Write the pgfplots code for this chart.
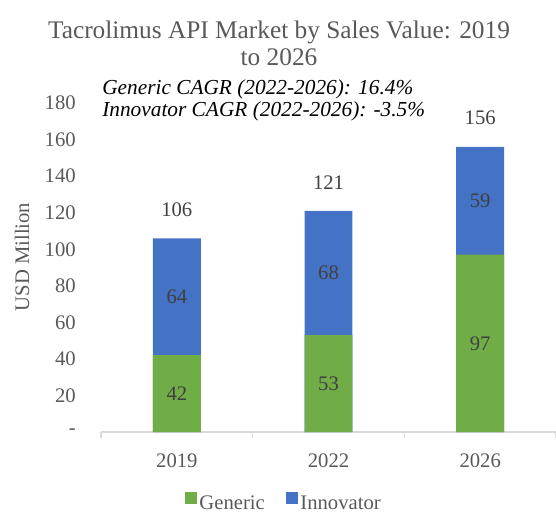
\documentclass[border=0pt]{standalone}
\usepackage{fontspec}
\setmainfont{Liberation Serif}
\usepackage{pgfplots}
\pgfplotsset{compat=1.18}
\definecolor{gcol}{HTML}{70AD47}
\definecolor{bcol}{HTML}{4472C4}
\definecolor{tgrey}{HTML}{595959}
\definecolor{lgrey}{HTML}{404040}
\definecolor{axgrey}{HTML}{D9D9D9}
\newcommand\fs{\fontsize{15.5pt}{18pt}\selectfont}
\begin{document}
\begin{tikzpicture}
\useasboundingbox (-75.75pt,-60pt) rectangle (341.25pt,324pt);
\begin{axis}[
  at={(0pt,0pt)}, anchor=south west,
  scale only axis, width=341.25pt, height=246.75pt,
  xmin=-0.5, xmax=2.5, ymin=0, ymax=180,
  enlargelimits=false, clip=false,
  axis x line*=bottom, axis y line*=left,
  x axis line style={draw=axgrey, line width=1.2pt},
  y axis line style={draw=none},
  xtick={0,1,2}, xticklabels={2019,2022,2026},
  minor xtick={-0.5,0.5,1.5,2.5},
  major tick length=0pt, minor tick length=4.5pt, tick align=outside,
  minor x tick style={draw=axgrey, line width=1pt},
  ytick={0,20,40,60,80,100,120,140,160,180},
  yticklabels={-,20,40,60,80,100,120,140,160,180},
  ytick style={draw=none},
  yticklabel style={font=\fs, text=tgrey, anchor=east, inner sep=0pt, xshift=-18.75pt},
  xticklabel style={font=\fs, text=tgrey, anchor=center, inner sep=0pt, yshift=-21.75pt},
  ylabel={USD Million},
  every axis y label/.style={at={(axis description cs:-0.1736,0.532)}, rotate=90, anchor=center, font=\fs, text=tgrey},
  bar width=0.316,
  every node near coord/.append style={font=\fs, text=lgrey, anchor=center},
  legend style={at={(axis description cs:0.403,-0.216)}, anchor=center, draw=none, fill=none,
    font=\fs, text=tgrey, inner sep=0pt, nodes={inner sep=2pt},
    /tikz/every even column/.append style={column sep=14pt}},
  legend columns=2, legend cell align=left,
]
\addplot[ybar, bar shift=0pt, fill=bcol, draw=none, forget plot] coordinates {(0,106) (1,121) (2,156)};
\addplot[ybar, bar shift=0pt, fill=gcol, draw=none, forget plot] coordinates {(0,42) (1,53) (2,97)};
\addplot[draw=none, mark=none, forget plot, nodes near coords, point meta=explicit symbolic]
  coordinates {(0,21)[42] (1,26.5)[53] (2,48.5)[97]};
\addplot[draw=none, mark=none, forget plot, nodes near coords, point meta=explicit symbolic]
  coordinates {(0,74)[64] (1,87)[68] (2,126.5)[59]};
\addplot[draw=none, mark=none, forget plot, nodes near coords, point meta=explicit symbolic,
  every node near coord/.append style={yshift=21.5pt}]
  coordinates {(0,106)[106] (1,121)[121] (2,156)[156]};
\addlegendimage{legend image code/.code={\fill[gcol] (0pt,0pt) rectangle (8.25pt,8.25pt);}}
\addlegendentry{Generic}
\addlegendimage{legend image code/.code={\fill[bcol] (0pt,0pt) rectangle (8.25pt,8.25pt);}}
\addlegendentry{Innovator}
\end{axis}
\node[anchor=base, inner sep=0pt, font=\fontsize{19pt}{22pt}\selectfont, text=tgrey] at (133.5pt,295.2pt) {Tacrolimus API Market by Sales Value: 2019};
\node[anchor=base, inner sep=0pt, font=\fontsize{19pt}{22pt}\selectfont, text=tgrey] at (133.5pt,275pt) {to 2026};
\node[anchor=base west, inner sep=0pt, font=\fontsize{16pt}{19pt}\selectfont\itshape] at (0.75pt,253.5pt) {Generic CAGR (2022-2026): 16.4\%};
\node[anchor=base west, inner sep=0pt, font=\fontsize{16pt}{19pt}\selectfont\itshape] at (0.75pt,237pt) {Innovator CAGR (2022-2026): -3.5\%};
\end{tikzpicture}
\end{document}
